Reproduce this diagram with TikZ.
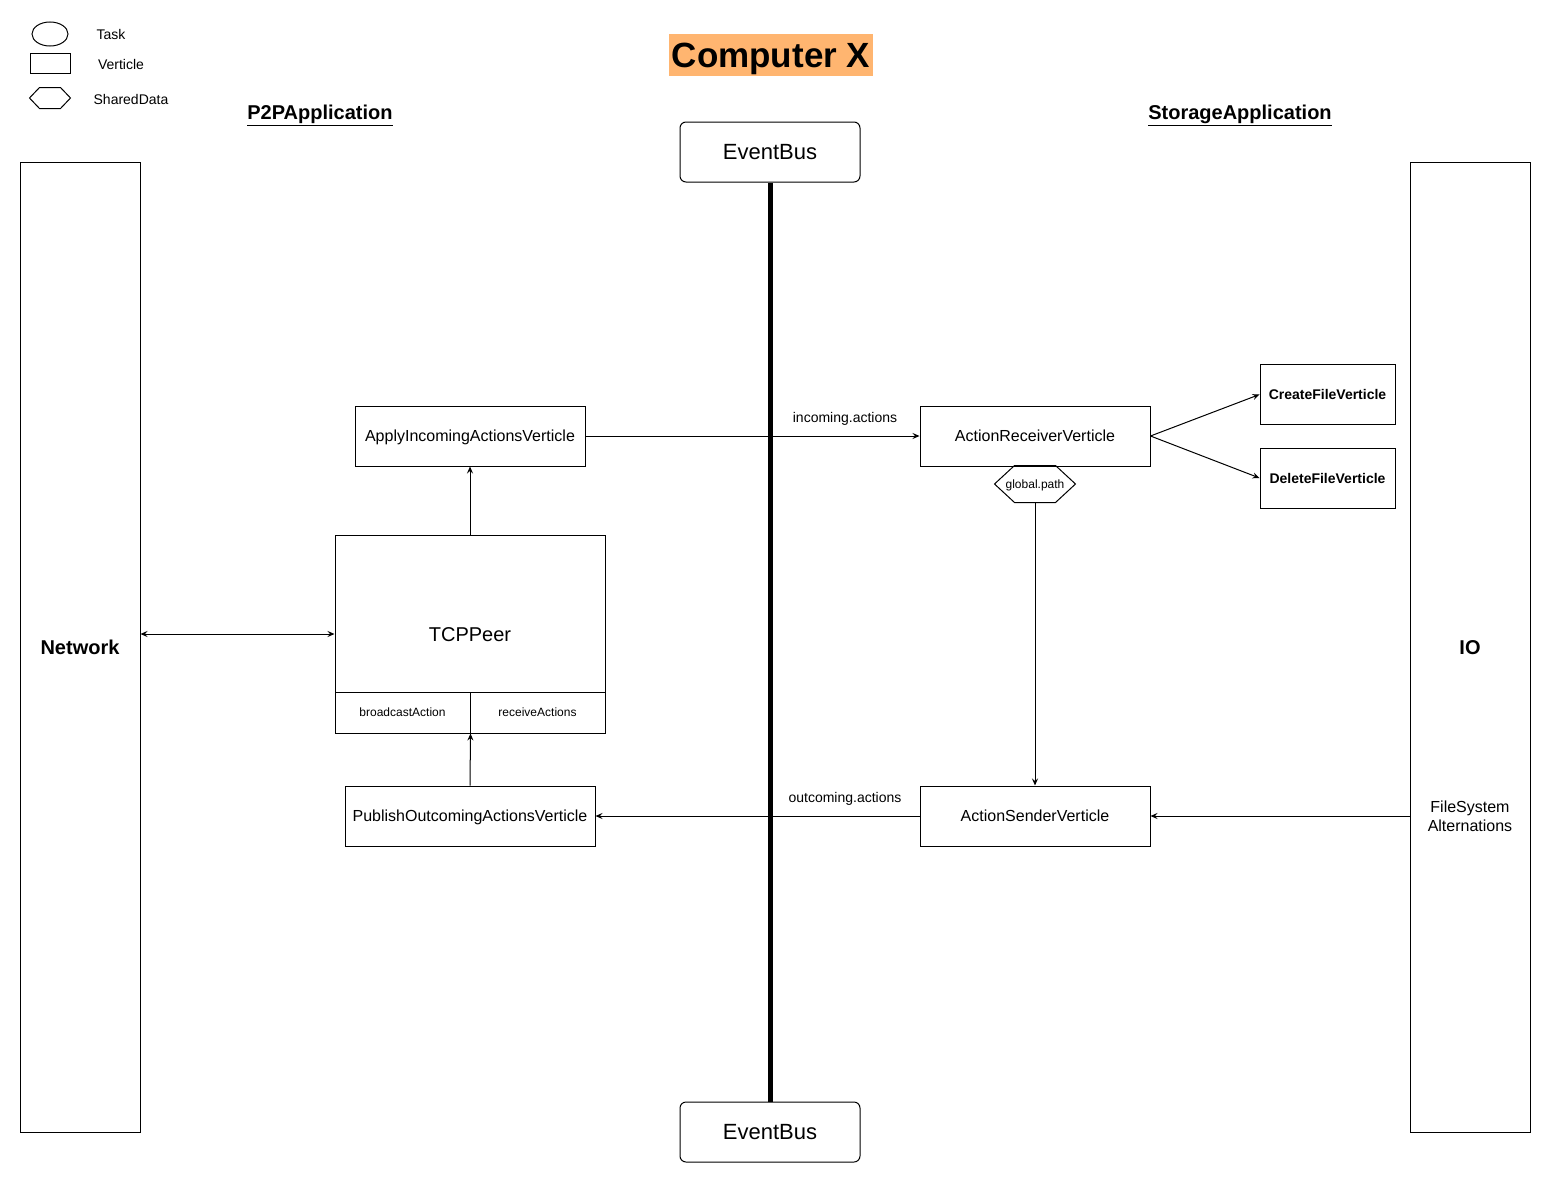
\documentclass[tikz,border=0pt]{standalone}
\usepackage{fontspec}
\setmainfont{Liberation Sans}
\usetikzlibrary{arrows.meta,shapes.geometric}
\definecolor{titleorange}{HTML}{FFB570}
\newcommand{\fsz}[1]{\fontsize{#1}{1.2\dimexpr#1pt\relax}\selectfont}
% hexagon outline round a named node, #2 = depth of the points
\newcommand{\hexoutline}[2]{%
  \draw (#1.west) -- ([xshift=#2]#1.north west) -- ([xshift=-#2]#1.north east)
    -- (#1.east) -- ([xshift=-#2]#1.south east) -- ([xshift=#2]#1.south west) -- cycle;}

\tikzset{
  >={Stealth[length=7pt,width=6pt,inset=2.5pt]},
  every path/.style={line width=1pt},
  verticle/.style={draw, rectangle, inner sep=0pt, minimum width=#1,
    minimum height=60pt, font=\fsz{16}, text height=11.5pt, text depth=0pt},
  verticle/.default=230pt,
  filebox/.style={draw, rectangle, inner sep=0pt, minimum width=135pt,
    minimum height=60pt, font=\bfseries\fsz{14}, text height=10pt, text depth=0pt},
  shareddata/.style={rectangle, inner sep=0pt, minimum width=#1,
    minimum height=0.45*#1},
  busbox/.style={draw, rectangle, rounded corners=6pt, minimum width=180pt,
    minimum height=60pt, font=\fsz{22}, text height=15.8pt, text depth=0pt},
  sidebox/.style={draw, rectangle, minimum width=120pt, minimum height=970pt,
    font=\bfseries\fsz{20}, text height=14.4pt, text depth=0pt},
  slot/.style={draw, rectangle, inner sep=0pt, minimum width=135pt,
    minimum height=41pt, font=\fsz{12}, text height=8.6pt, text depth=0pt},
  lbl/.style={font=\fsz{14}, text height=10pt, text depth=0pt},
  header/.style={font=\bfseries\fsz{20}, text height=14.4pt, text depth=0pt},
}

\begin{document}
\begin{tikzpicture}[x=1pt, y=-1pt]
\useasboundingbox (0,0) rectangle (1551,1183);

% legend
\node[draw, ellipse, minimum width=36pt, minimum height=24pt] (task) at (50,34) {};
\node[draw, rectangle, minimum width=40pt, minimum height=20pt] (vert) at (50,63) {};
\node[shareddata=40pt, minimum height=20pt] (shared) at (50,98) {};
\hexoutline{shared}{10pt}
\node[lbl] (tasklbl) at (111,34) {Task};
\node[lbl] (vertlbl) at (121,64) {Verticle};
\node[lbl] (sharedlbl) at (131,99) {SharedData};

% headers
\node[fill=titleorange, inner sep=0pt, minimum width=204pt, minimum height=42pt,
  font=\bfseries\fsz{35}, text height=25.2pt, text depth=0pt] (title) at (771,55) {Computer X};
\node[header] (p2p) at (320,112) {\underline{P2PApplication}};
\node[header] (storage) at (1240,112) {\underline{StorageApplication}};

% event bus
\node[busbox] (bustop) at (770,152) {EventBus};
\node[busbox] (busbottom) at (770,1132) {EventBus};

% sides
\node[sidebox] (network) at (80,647) {Network};
\node[sidebox] (io) at (1470,647) {IO};
\node[align=center, font=\fontsize{16}{19}\selectfont] (fsalt) at (1470,816)
  {FileSystem\\Alternations};

% p2p side
\node[verticle] (apply) at (470,436) {ApplyIncomingActionsVerticle};
\node[draw, rectangle, inner sep=0pt, minimum width=270pt, minimum height=198pt,
  font=\fsz{20}, text height=14.4pt, text depth=0pt] (tcp) at (470,634) {TCPPeer};
\node[slot] (broadcast) at (402.5,712.5) {broadcastAction};
\node[slot] (receive) at (537.5,712.5) {receiveActions};
\node[verticle=250pt] (publish) at (470,816) {PublishOutcomingActionsVerticle};

% storage side
\node[verticle] (receiver) at (1035,436) {ActionReceiverVerticle};
\node[filebox] (create) at (1327.5,394.5) {CreateFileVerticle};
\node[filebox] (delete) at (1327.5,478) {DeleteFileVerticle};
\node[shareddata=80pt, font=\fsz{12}, text height=8.6pt, text depth=0pt]
  (path) at (1035,484) {global.path};
\hexoutline{path}{20pt}
\node[verticle] (sender) at (1035,816) {ActionSenderVerticle};

% connectors
\draw[->] (apply.east) -- (receiver.west);
\draw[->] (sender.west) -- (publish.east);
\draw[line width=5pt] (bustop.south) -- (busbottom.north);
\node[lbl] (incoming) at (845,417) {incoming.actions};
\node[lbl] (outcoming) at (845,797) {outcoming.actions};
\draw[->] (tcp.north) -- (apply.south);
\draw[->] (publish.north) -- (broadcast.south east);
\draw[<->] (network.east |- tcp.west) -- (tcp.west);
\draw[->] (receiver.east) -- (create.west);
\draw[->] (receiver.east) -- (delete.west);
\draw[->] (path.south) -- (sender.north);
\draw[->] (io.west |- sender.east) -- (sender.east);
\end{tikzpicture}
\end{document}
